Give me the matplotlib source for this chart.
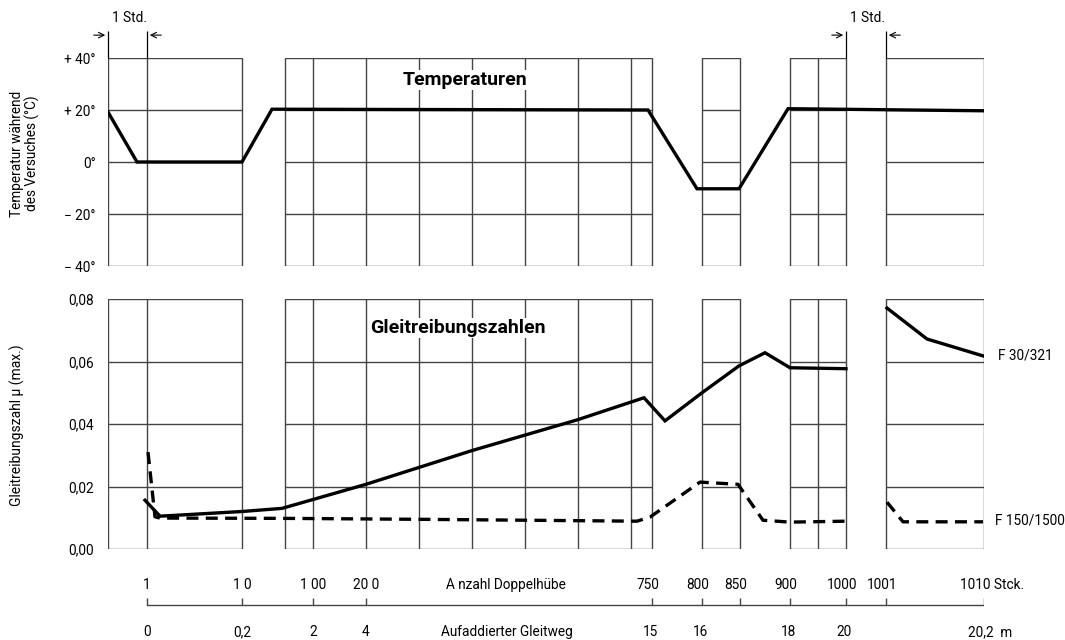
import numpy as np
import matplotlib
matplotlib.use("Agg")
import matplotlib.pyplot as plt

plt.rcParams['font.family'] = ['Roboto', 'DejaVu Sans']

# horizontal axis of the drawing: position units along the test sequence
boxes = [(0, 134), (177, 544), (594, 632), (682, 738), (778, 876)]
inner_lines = [39, 205, 258, 311, 364, 417, 470, 523, 710]

# stroke count axis (Anzahl Doppelhuebe) and cumulated sliding distance
stroke_pos = [39, 134, 205, 258, 544, 594, 632, 682, 738, 778, 876]
stroke_labels = ['1', '1 0', '1 00', '20 0', '750', '800', '850', '900', '1000', '1001', '1010 Stck.']
dist_pos = [39, 134, 205, 258, 544, 594, 682, 738, 876]
dist_labels = ['0', '0,2', '2', '4', '15', '16', '18', '20', '20,2  m']

# temperature during the test (deg C)
temp_x = [0, 29, 134, 164, 540, 589, 631, 680, 876]
temp_y = [19.2, 0, 0, 20.3, 20.0, -10.3, -10.3, 20.5, 19.7]

# friction coefficient F 30/321 (solid)
f30_x = [37, 52, 134, 174, 258, 364, 470, 536, 557, 594, 631, 657, 682, 738,
         np.nan, 779, 819, 875]
f30_y = [0.0156, 0.0105, 0.0120, 0.0130, 0.0207, 0.0315, 0.0414, 0.0484, 0.0410,
         0.0500, 0.0586, 0.0628, 0.0580, 0.0577, np.nan, 0.0771, 0.0672, 0.0618]

# friction coefficient F 150/1500 (dashed)
f150_x = [40, 47, 52, 177, 312, 529, 542, 592, 630, 655, 682, 738,
          np.nan, 779, 795, 875]
f150_y = [0.0310, 0.0103, 0.0099, 0.0098, 0.0095, 0.0089, 0.0102, 0.0214, 0.0207,
          0.0092, 0.0086, 0.0089, np.nan, 0.0150, 0.0087, 0.0087]

temp_ticks = [40, 20, 0, -20, -40]
temp_ticklabels = ['+ 40°', '+ 20°', '0°', '− 20°', '− 40°']
mu_ticks = [0.08, 0.06, 0.04, 0.02, 0.0]
mu_ticklabels = ['0,08', '0,06', '0,04', '0,02', '0,00']

W, H = 1065, 640
grid_c = '#444444'
fs = 9.8

fig = plt.figure(figsize=(W / 100, H / 100), dpi=100)
x0, xw = 108 / W, 876 / W
ax_t = fig.add_axes([x0, (H - 266) / H, xw, 208 / H])
ax_b = fig.add_axes([x0, (H - 549) / H, xw, 250 / H])
ax_s = fig.add_axes([x0, 0, xw, 70 / H])


def draw_boxes(ax, yticks, ymin, ymax):
    for a, b in boxes:
        ax.plot([a, b, b, a, a], [ymin, ymin, ymax, ymax, ymin], color=grid_c, lw=1.0,
                solid_joinstyle='miter', zorder=1)
        ax.hlines([t for t in yticks if ymin < t < ymax], a, b, color=grid_c, lw=1.0, zorder=1)
        ax.vlines([v for v in inner_lines if a < v < b], ymin, ymax, color=grid_c, lw=1.0, zorder=1)
    ax.set_xlim(0, 876)
    ax.set_ylim(ymin, ymax)
    for s in ax.spines.values():
        s.set_visible(False)
    ax.set_xticks([])


# --- top panel: temperatures
draw_boxes(ax_t, temp_ticks, -40, 40)
ax_t.plot(temp_x, temp_y, color='black', lw=2.4, solid_joinstyle='miter', zorder=3)
ax_t.set_yticks(temp_ticks, temp_ticklabels, fontsize=fs)
ax_t.tick_params(axis='y', length=0, pad=9)
ax_t.set_ylabel('Temperatur während\ndes Versuches (°C)', fontsize=9.8, linespacing=1.0, va='center')
ax_t.yaxis.set_label_coords(-0.0947, 0.54)
ax_t.text(357, 31.5, 'Temperaturen', fontsize=14, fontweight='bold', ha='center', va='center',
          zorder=4, bbox=dict(facecolor='white', edgecolor='none', pad=1))

# 1 Std. markers
for xl, xr in [(0, 39), (738, 778)]:
    ax_t.vlines([xl, xr], 40, 50.4, color='black', lw=0.9, clip_on=False)
    ax_t.annotate('', xy=(xl, 48.8), xytext=(xl - 17, 48.8),
                  arrowprops=dict(arrowstyle='->', lw=0.8, color='black'), annotation_clip=False)
    ax_t.annotate('', xy=(xr, 48.8), xytext=(xr + 17, 48.8),
                  arrowprops=dict(arrowstyle='->', lw=0.8, color='black'), annotation_clip=False)
    ax_t.text((xl + xr) / 2 + 2, 55.2, '1 Std.', fontsize=fs, ha='center', va='center', clip_on=False)

# --- bottom panel: friction coefficients
draw_boxes(ax_b, mu_ticks, 0.0, 0.08)
ax_b.plot(f30_x, f30_y, color='black', lw=2.4, solid_joinstyle='miter', zorder=3)
ax_b.plot(f150_x, f150_y, color='black', lw=2.4, dashes=(3.6, 2.2), zorder=3)
ax_b.set_yticks(mu_ticks, mu_ticklabels, fontsize=fs)
ax_b.tick_params(axis='y', length=0, pad=10)
ax_b.set_ylabel('Gleitreibungszahl μ (max.)', fontsize=10, va='center')
ax_b.yaxis.set_label_coords(-0.104, 0.496)
ax_b.text(350, 0.0707, 'Gleitreibungszahlen', fontsize=14, fontweight='bold', ha='center', va='center',
          zorder=4, bbox=dict(facecolor='white', edgecolor='none', pad=1))
ax_b.text(890, 0.0618, 'F 30/321', fontsize=fs, ha='left', va='center', clip_on=False)
ax_b.text(887, 0.0090, 'F 150/1500', fontsize=fs, ha='left', va='center', clip_on=False)

# --- scale below: strokes and sliding distance
ax_s.set_xlim(0, 876)
ax_s.set_ylim(0, 1)
ax_s.axis('off')
ax_s.plot([stroke_pos[0], stroke_pos[-1]], [0.5, 0.5], color=grid_c, lw=1.0)
ax_s.vlines(stroke_pos, 0.5, 0.6, color=grid_c, lw=1.0)
for p, lab in zip(stroke_pos, stroke_labels):
    if lab.endswith('Stck.'):
        ax_s.text(p - 24, 0.786, lab, fontsize=fs, ha='left', va='center')
    else:
        ax_s.text(p - 4 if p > 300 else p, 0.786, lab, fontsize=fs, ha='center', va='center')
ax_s.text(398, 0.786, 'A nzahl Doppelhübe', fontsize=fs, ha='center', va='center')
for p, lab in zip(dist_pos, dist_labels):
    if lab.endswith('m'):
        ax_s.text(p - 16, 0.114, lab, fontsize=fs, ha='left', va='center')
    else:
        ax_s.text(p - 2 if p > 300 else p, 0.114, lab, fontsize=fs, ha='center', va='center')
ax_s.text(399, 0.114, 'Aufaddierter Gleitweg', fontsize=fs, ha='center', va='center')

fig.savefig('out.png', dpi=100)
